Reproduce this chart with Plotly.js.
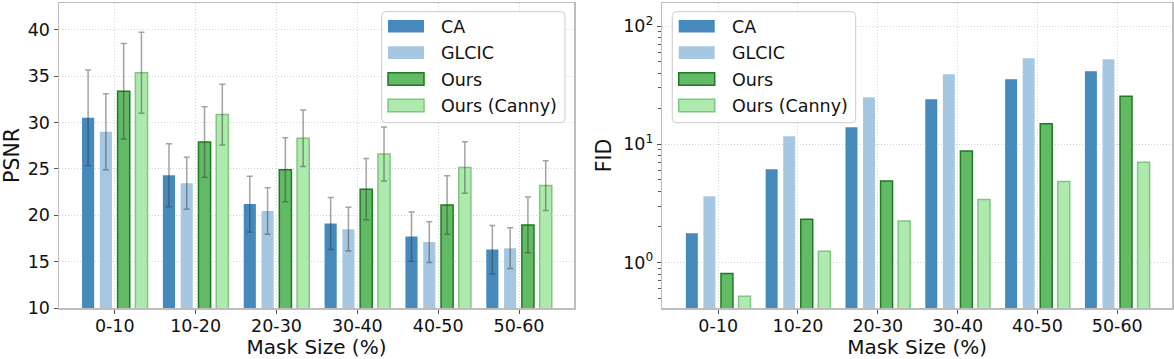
<!DOCTYPE html>
<html>
<head>
<meta charset="utf-8">
<script src="https://cdn.plot.ly/plotly-3.0.1.min.js"></script>
<style>html,body{margin:0;padding:0;background:#fff;}#chart{width:1174px;height:359px;}</style>
</head>
<body>
<div id="chart"></div>
<script>
const categories = ['0-10', '10-20', '20-30', '30-40', '40-50', '50-60'];
const seriesNames = ['CA', 'GLCIC', 'Ours', 'Ours (Canny)'];

const psnrCA = [30.5, 24.3, 21.2, 19.1, 17.7, 16.3];
const psnrCAErr = [5.15, 3.4, 3.0, 2.8, 2.65, 2.6];
const psnrGLCIC = [29.0, 23.45, 20.45, 18.5, 17.1, 16.45];
const psnrGLCICErr = [4.1, 2.8, 2.5, 2.35, 2.2, 2.2];
const psnrOurs = [33.35, 27.9, 24.9, 22.8, 21.1, 18.95];
const psnrOursErr = [5.15, 3.8, 3.45, 3.3, 3.15, 3.0];
const psnrCanny = [35.35, 30.85, 28.3, 26.6, 25.15, 23.2];
const psnrCannyErr = [4.37, 3.27, 3.04, 2.9, 2.77, 2.68];

const fidCA = [1.77, 6.15, 13.95, 24.1, 35.5, 41.5];
const fidGLCIC = [3.64, 11.7, 25.0, 39.2, 53.5, 52.5];
const fidOurs = [0.81, 2.32, 4.9, 8.8, 14.9, 25.5];
const fidCanny = [0.52, 1.25, 2.25, 3.41, 4.84, 7.06];

const W = 1174, H = 359;
const FONT = 'DejaVu Sans, sans-serif';
const styles = [
  {fill: '#4689bd', line: '#4689bd', lw: 0},
  {fill: '#a6c7e1', line: '#a6c7e1', lw: 0},
  {fill: '#62b966', line: '#1e7b1e', lw: 1.5},
  {fill: '#aee9ae', line: '#80c680', lw: 1.5}
];
const offsets = [-0.405, -0.185, 0.035, 0.255];
const barW = 0.15;
const errStyle = {type: 'data', color: 'rgba(50,50,50,0.45)', thickness: 1.5, width: 3};

function barTrace(i, y, err, xa, ya) {
  const t = {
    type: 'bar', x: categories, y: y, name: seriesNames[i],
    xaxis: xa, yaxis: ya, offset: offsets[i], width: barW,
    marker: {color: styles[i].fill, line: {color: styles[i].line, width: styles[i].lw}},
    showlegend: false, hoverinfo: 'skip'
  };
  if (err) t.error_y = Object.assign({array: err, visible: true}, errStyle);
  return t;
}

const data = [
  barTrace(0, psnrCA, psnrCAErr, 'x', 'y'),
  barTrace(1, psnrGLCIC, psnrGLCICErr, 'x', 'y'),
  barTrace(2, psnrOurs, psnrOursErr, 'x', 'y'),
  barTrace(3, psnrCanny, psnrCannyErr, 'x', 'y'),
  barTrace(0, fidCA, null, 'x2', 'y2'),
  barTrace(1, fidGLCIC, null, 'x2', 'y2'),
  barTrace(2, fidOurs, null, 'x2', 'y2'),
  barTrace(3, fidCanny, null, 'x2', 'y2')
];

const px = x => x / W;
const py = y => 1 - y / H;

const axisCommon = {
  showline: true, mirror: true, linecolor: '#bdbdbd', linewidth: 1.5,
  ticks: 'outside', ticklen: 4, tickwidth: 1, tickcolor: '#555',
  showgrid: true, gridcolor: '#d4d4d4', griddash: '1px,2px', gridwidth: 1,
  zeroline: false, tickfont: {family: FONT, size: 17.5, color: '#111'}
};

const shapes = [];
const annotations = [];

function roundRect(x0, y0, x1, y1, r) {
  const X = v => px(v), Y = v => py(v);
  return `M ${X(x0 + r)},${Y(y0)} L ${X(x1 - r)},${Y(y0)} Q ${X(x1)},${Y(y0)} ${X(x1)},${Y(y0 + r)} ` +
    `L ${X(x1)},${Y(y1 - r)} Q ${X(x1)},${Y(y1)} ${X(x1 - r)},${Y(y1)} L ${X(x0 + r)},${Y(y1)} ` +
    `Q ${X(x0)},${Y(y1)} ${X(x0)},${Y(y1 - r)} L ${X(x0)},${Y(y0 + r)} Q ${X(x0)},${Y(y0)} ${X(x0 + r)},${Y(y0)} Z`;
}

function addLegend(bx0, bx1, patchX0) {
  const by0 = 11.7, by1 = 122.7;
  shapes.push({type: 'path', xref: 'paper', yref: 'paper', path: roundRect(bx0, by0, bx1, by1, 4),
    fillcolor: 'rgba(255,255,255,0.85)', line: {color: '#cccccc', width: 1}, layer: 'above'});
  const rows = [26.3, 52.6, 79.0, 105.5];
  rows.forEach((cy, i) => {
    const s = styles[i];
    shapes.push({type: 'rect', xref: 'paper', yref: 'paper', layer: 'above',
      x0: px(patchX0), x1: px(patchX0 + 36), y0: py(cy + 6.3), y1: py(cy - 6.3),
      fillcolor: s.fill, line: {color: s.line, width: s.lw}});
    annotations.push({xref: 'paper', yref: 'paper', x: px(patchX0 + 51), y: py(cy + 0.5),
      xanchor: 'left', yanchor: 'middle', showarrow: false, text: seriesNames[i],
      font: {family: FONT, size: 17.5, color: '#111'}});
  });
}
addLegend(381.7, 565, 388);
addLegend(672.3, 855.7, 678.7);

const xTitleFont = {family: FONT, size: 20, color: '#111'};
const layout = {
  width: W, height: H,
  margin: {l: 0, r: 0, t: 0, b: 0},
  paper_bgcolor: '#fff', plot_bgcolor: '#fff',
  barmode: 'overlay',
  showlegend: false,
  font: {family: FONT, color: '#111'},
  xaxis: Object.assign({}, axisCommon, {
    domain: [px(59), px(574)], anchor: 'y', type: 'category', range: [-0.69, 5.68],
    ticklabelstandoff: -3,
    title: {text: 'Mask Size (%)', font: xTitleFont, standoff: 0}
  }),
  yaxis: Object.assign({}, axisCommon, {
    domain: [py(308), py(3)], anchor: 'x', range: [10, 42.87], dtick: 5, tick0: 10,
    title: {text: 'PSNR', font: {family: FONT, size: 20.5, color: '#111'}, standoff: 6}
  }),
  xaxis2: Object.assign({}, axisCommon, {
    domain: [px(662.3), px(1172)], anchor: 'y2', type: 'category', range: [-0.70, 5.686],
    ticklabelstandoff: -3,
    title: {text: 'Mask Size (%)', font: xTitleFont, standoff: 0}
  }),
  yaxis2: Object.assign({}, axisCommon, {
    domain: [py(308), py(3)], anchor: 'x2', type: 'log', range: [-0.384, 2.195],
    tickvals: [1, 10, 100], ticktext: ['10<sup>0</sup>', '10<sup>1</sup>', '10<sup>2</sup>'],
    minor: {tickvals: [0.5,0.6,0.7,0.8,0.9,2,3,4,5,6,7,8,9,20,30,40,50,60,70,80,90],
      ticks: 'outside', ticklen: 2.5, tickcolor: '#555', tickwidth: 1, showgrid: false},
    title: {text: 'FID', font: {family: FONT, size: 20.5, color: '#111'}, standoff: 6}
  }),
  shapes: shapes,
  annotations: annotations
};

Plotly.newPlot('chart', data, layout, {staticPlot: true, displayModeBar: false});
</script>
</body>
</html>
